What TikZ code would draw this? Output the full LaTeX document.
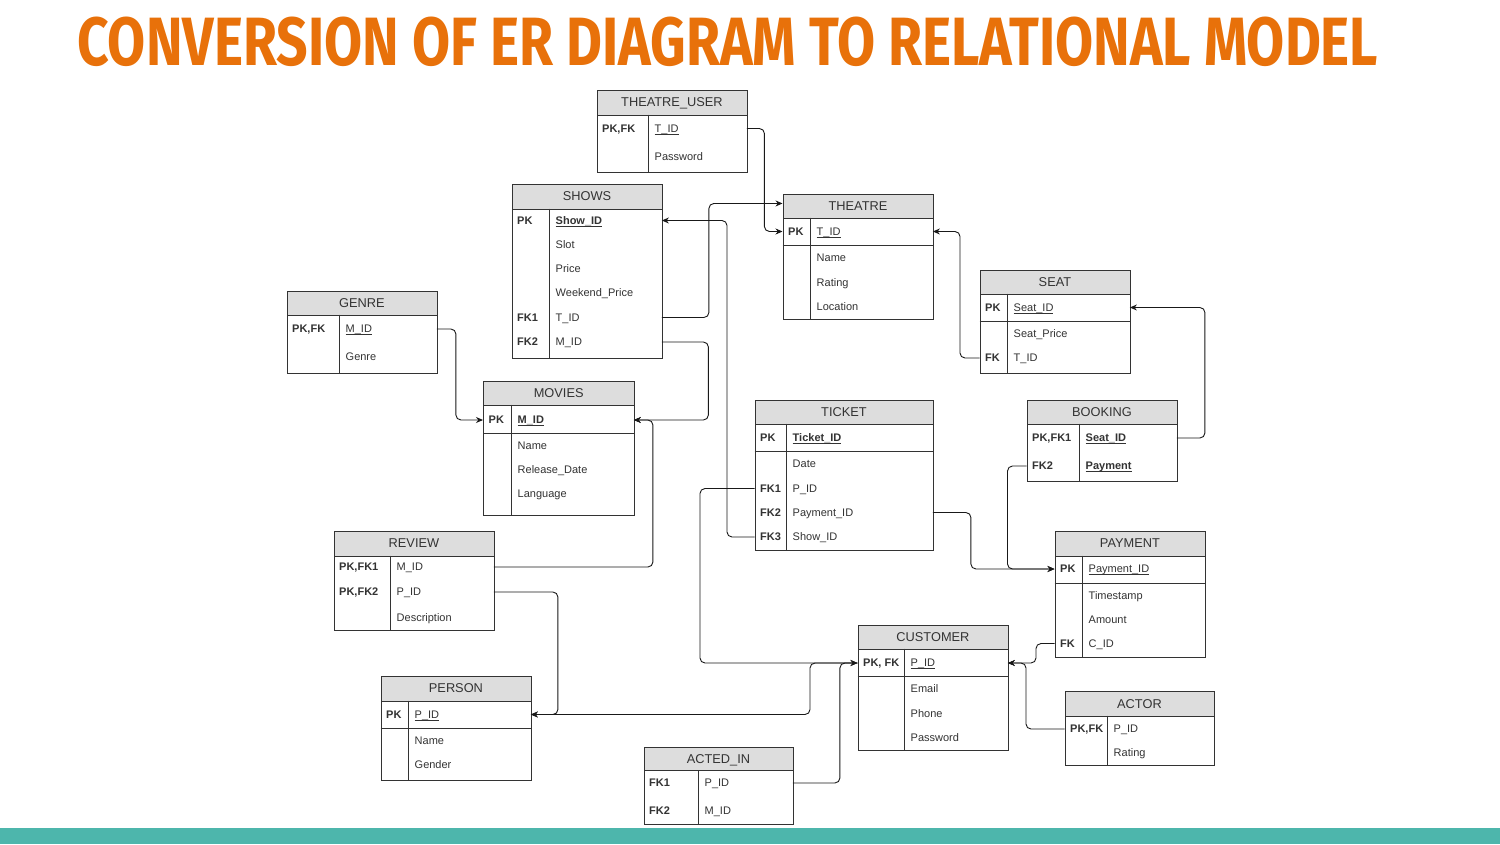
\documentclass[tikz,border=0pt]{standalone}
\usepackage{fontspec}
\setmainfont{Liberation Sans}
\newfontfamily\titlefont{Fira Sans}
\usetikzlibrary{arrows.meta}
\definecolor{titleorange}{HTML}{E8710A}
\definecolor{barteal}{HTML}{4DB6AC}
\definecolor{hdrgray}{HTML}{DDDDDD}
\definecolor{ink}{HTML}{333333}
\newcommand\keyul[1]{\setbox0\hbox{#1}\rlap{\rule[-2.0pt]{\wd0}{0.8pt}}\box0}
% table frame: id, title, left, top, right, header bottom, bottom, divider x
\newcommand\ertab[8]{%
  \node[hdrbox, minimum width={(#5-#3)*1pt}, minimum height={(#6-#4)*1pt}, anchor=north west] (#1) at (#3,#4) {#2};
  \node[bodybox, minimum width={(#5-#3)*1pt}, minimum height={(#7-#6)*1pt}, anchor=north west] (#1-b) at (#3,#6) {};
  \draw[tabline] (#8,#6) -- (#8,#7);
}
% row: id, left, right, divider x, y, key, attribute
\newcommand\erow[7]{%
  \node[rowbox, minimum width={(#3-#2)*1pt}, anchor=west] (#1) at (#2,#5) {};
  \node[keytxt, anchor=west] (#1-k) at (#2+5.5,#5) {#6};
  \node[attrtxt, anchor=west] (#1-a) at (#4+6,#5) {#7};
}
\tikzset{
  tabline/.style={draw=black!80, line width=0.9pt},
  hdrbox/.style={tabline, fill=hdrgray, inner sep=0pt, text height=9pt, text depth=0pt, font=\fontsize{12.8}{14}\selectfont, text=ink},
  bodybox/.style={tabline, fill=white, inner sep=0pt},
  rowbox/.style={inner sep=0pt, minimum height=1pt},
  keytxt/.style={inner sep=0pt, text height=7.9pt, text depth=0pt, font=\fontsize{11}{13}\selectfont\bfseries, text=ink},
  attrtxt/.style={inner sep=0pt, text height=7.9pt, text depth=0pt, font=\fontsize{11}{13}\selectfont, text=ink},
  conn/.style={draw=black!90, line width=0.9pt, rounded corners=5pt, -{Stealth[length=7pt,width=6pt]}},
  sepline/.style={tabline},
}
\begin{document}
\begin{tikzpicture}[x=1pt,y=-1pt]
\fill[white] (0,0) rectangle (1500,844);
\useasboundingbox (0,0) rectangle (1500,844);

% title and bottom bar
\node[anchor=base west, inner sep=0pt, text=titleorange] (title) at (77,65.7)
  {\resizebox{1301pt}{48.5pt}{\titlefont\bfseries CONVERSION OF ER DIAGRAM TO RELATIONAL MODEL}};
\node[fill=barteal, anchor=north west, minimum width=1500pt, minimum height=16.5pt, inner sep=0pt] (bar) at (0,827.5) {};

% THEATRE_USER
\ertab{tu}{THEATRE\_USER}{596.5}{89.5}{746.5}{114.5}{171.5}{648.5}
\erow{tu-r1}{596.5}{746.5}{648.5}{128.5}{PK,FK}{\keyul{T\_ID}}
\erow{tu-r2}{596.5}{746.5}{648.5}{156.5}{}{Password}

% SHOWS
\ertab{sh}{SHOWS}{511.5}{183.5}{661.5}{208.5}{358}{549.5}
\erow{sh-r1}{511.5}{661.5}{549.5}{220.5}{PK}{\keyul{\textbf{Show\_ID}}}
\erow{sh-r2}{511.5}{661.5}{549.5}{244.5}{}{Slot}
\erow{sh-r3}{511.5}{661.5}{549.5}{268.5}{}{Price}
\erow{sh-r4}{511.5}{661.5}{549.5}{293}{}{Weekend\_Price}
\erow{sh-r5}{511.5}{661.5}{549.5}{317.5}{FK1}{T\_ID}
\erow{sh-r6}{511.5}{661.5}{549.5}{342}{FK2}{M\_ID}

% GENRE
\ertab{ge}{GENRE}{286.5}{290.5}{436.5}{314.5}{372.5}{339.5}
\erow{ge-r1}{286.5}{436.5}{339.5}{329}{PK,FK}{\keyul{M\_ID}}
\erow{ge-r2}{286.5}{436.5}{339.5}{357}{}{Genre}

% THEATRE
\ertab{th}{THEATRE}{782.5}{193.5}{932.5}{217.5}{318.5}{810.5}
\draw[sepline] (782.5,245) -- (932.5,245);
\erow{th-r1}{782.5}{932.5}{810.5}{231.5}{PK}{\keyul{T\_ID}}
\erow{th-r2}{782.5}{932.5}{810.5}{257.5}{}{Name}
\erow{th-r3}{782.5}{932.5}{810.5}{282.5}{}{Rating}
\erow{th-r4}{782.5}{932.5}{810.5}{306.5}{}{Location}

% SEAT
\ertab{se}{SEAT}{979.5}{269.5}{1129.5}{293.5}{372.5}{1007.5}
\draw[sepline] (979.5,321) -- (1129.5,321);
\erow{se-r1}{979.5}{1129.5}{1007.5}{307.5}{PK}{\keyul{Seat\_ID}}
\erow{se-r2}{979.5}{1129.5}{1007.5}{333.5}{}{Seat\_Price}
\erow{se-r3}{979.5}{1129.5}{1007.5}{358}{FK}{T\_ID}

% MOVIES
\ertab{mo}{MOVIES}{483}{380.5}{633.5}{404.5}{515}{511.5}
\draw[sepline] (483,433) -- (633.5,433);
\erow{mo-r1}{483}{633.5}{511.5}{420}{PK}{\keyul{\textbf{M\_ID}}}
\erow{mo-r2}{483}{633.5}{511.5}{446}{}{Name}
\erow{mo-r3}{483}{633.5}{511.5}{470}{}{Release\_Date}
\erow{mo-r4}{483}{633.5}{511.5}{494}{}{Language}

% TICKET
\ertab{ti}{TICKET}{754.5}{399.5}{932.5}{423.5}{549.5}{786.5}
\draw[sepline] (754.5,451.5) -- (932.5,451.5);
\erow{ti-r1}{754.5}{932.5}{786.5}{438}{PK}{\keyul{\textbf{Ticket\_ID}}}
\erow{ti-r2}{754.5}{932.5}{786.5}{464}{}{Date}
\erow{ti-r3}{754.5}{932.5}{786.5}{488.5}{FK1}{P\_ID}
\erow{ti-r4}{754.5}{932.5}{786.5}{512.5}{FK2}{Payment\_ID}
\erow{ti-r5}{754.5}{932.5}{786.5}{537}{FK3}{Show\_ID}

% BOOKING
\ertab{bo}{BOOKING}{1026.5}{399.5}{1176.5}{423.5}{480.5}{1079.5}
\erow{bo-r1}{1026.5}{1176.5}{1079.5}{438}{PK,FK1}{\keyul{\textbf{Seat\_ID}}}
\erow{bo-r2}{1026.5}{1176.5}{1079.5}{466}{FK2}{\keyul{\textbf{Payment}}}

% REVIEW
\ertab{re}{REVIEW}{333.5}{530.5}{493.5}{555.5}{630}{390.5}
\erow{re-r1}{333.5}{493.5}{390.5}{567}{PK,FK1}{M\_ID}
\erow{re-r2}{333.5}{493.5}{390.5}{592}{PK,FK2}{P\_ID}
\erow{re-r3}{333.5}{493.5}{390.5}{617.5}{}{Description}

% PAYMENT
\ertab{pa}{PAYMENT}{1054.5}{530.5}{1204.5}{555.5}{656.5}{1082.5}
\draw[sepline] (1054.5,583.5) -- (1204.5,583.5);
\erow{pa-r1}{1054.5}{1204.5}{1082.5}{569}{PK}{\keyul{Payment\_ID}}
\erow{pa-r2}{1054.5}{1204.5}{1082.5}{596}{}{Timestamp}
\erow{pa-r3}{1054.5}{1204.5}{1082.5}{620}{}{Amount}
\erow{pa-r4}{1054.5}{1204.5}{1082.5}{643.5}{FK}{C\_ID}

% CUSTOMER
\ertab{cu}{CUSTOMER}{857.5}{624.5}{1007.5}{648.5}{750}{904.5}
\draw[sepline] (857.5,676.5) -- (1007.5,676.5);
\erow{cu-r1}{857.5}{1007.5}{904.5}{663}{PK, FK}{\keyul{P\_ID}}
\erow{cu-r2}{857.5}{1007.5}{904.5}{689}{}{Email}
\erow{cu-r3}{857.5}{1007.5}{904.5}{713.5}{}{Phone}
\erow{cu-r4}{857.5}{1007.5}{904.5}{737.5}{}{Password}

% PERSON
\ertab{pe}{PERSON}{380.5}{675.5}{530.5}{700.5}{780}{408.5}
\draw[sepline] (380.5,728.5) -- (530.5,728.5);
\erow{pe-r1}{380.5}{530.5}{408.5}{714.5}{PK}{\keyul{P\_ID}}
\erow{pe-r2}{380.5}{530.5}{408.5}{741}{}{Name}
\erow{pe-r3}{380.5}{530.5}{408.5}{765}{}{Gender}

% ACTED_IN
\ertab{ai}{ACTED\_IN}{643.5}{746.5}{792.5}{770}{823.5}{698.5}
\erow{ai-r1}{643.5}{792.5}{698.5}{783}{FK1}{P\_ID}
\erow{ai-r2}{643.5}{792.5}{698.5}{811}{FK2}{M\_ID}

% ACTOR
\ertab{ac}{ACTOR}{1064.5}{691}{1213.5}{715.5}{765}{1107.5}
\erow{ac-r1}{1064.5}{1213.5}{1107.5}{729}{PK,FK}{P\_ID}
\erow{ac-r2}{1064.5}{1213.5}{1107.5}{752.5}{}{Rating}

% connectors
\draw[conn] (tu-r1.east) -- ++(17.5,0) |- (th-r1.west);
\draw[conn] (sh-r5.east) -- ++(47,0) |- ([yshift=2.5pt]th.west);
\draw[conn] (ti-r5.west) -- ++(-27.5,0) |- (sh-r1.east);
\draw[conn] (sh-r6.east) -- ++(46.5,0) |- (mo-r1.east);
\draw[conn] (ge-r1.east) -- ++(19,0) |- (mo-r1.west);
\draw[conn] (re-r1.east) -- ++(159,0) |- (mo-r1.east);
\draw[conn] (re-r2.east) -- ++(64,0) |- (pe-r1.east);
\draw[conn] (cu-r1.west) -- ++(-47.5,0) |- (pe-r1.east);
\draw[conn] (ti-r3.west) -- ++(-54.5,0) |- (cu-r1.west);
\draw[conn] (ai-r1.east) -- ++(47,0) |- (cu-r1.west);
\draw[conn] (ti-r4.east) -- ++(38,0) |- (pa-r1.west);
\draw[conn] (bo-r2.west) -- ++(-19,0) |- (pa-r1.west);
\draw[conn] (bo-r1.east) -- ++(28,0) |- (se-r1.east);
\draw[conn] (se-r3.west) -- ++(-19.5,0) |- (th-r1.east);
\draw[conn] (pa-r4.west) -- ++(-18.5,0) |- (cu-r1.east);
\draw[conn] (ac-r1.west) -- ++(-38.5,0) |- (cu-r1.east);
\end{tikzpicture}
\end{document}
